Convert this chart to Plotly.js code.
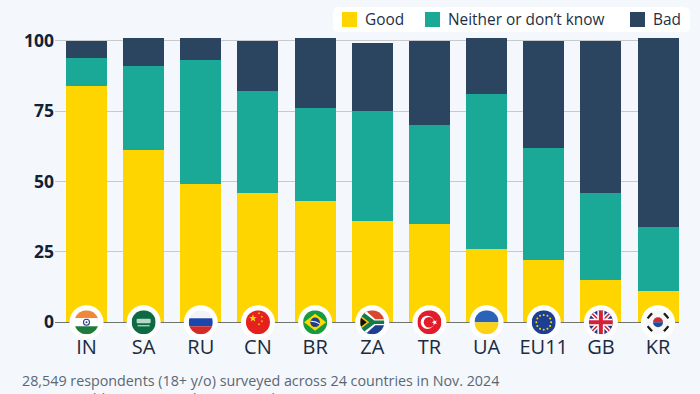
<!DOCTYPE html>
<html>
<head>
<meta charset="utf-8">
<script src="https://cdn.plot.ly/plotly-3.0.1.min.js"></script>
<style>html,body{margin:0;padding:0;background:#f4f7fb;overflow:hidden}#c{width:700px;height:394px}</style>
</head>
<body>
<div id="c"></div>
<script>
const categories = ['IN','SA','RU','CN','BR','ZA','TR','UA','EU11','GB','KR'];
const good = [84,61,49,46,43,36,35,26,22,15,11];
const neither = [10,30,44,36,33,39,35,55,40,31,23];
const bad = [6,10,8,18,25,24,30,20,38,54,67];
const yTicks = [0,25,50,75,100];
const legendLabels = ['Good','Neither or don’t know','Bad'];
const colors = ['#ffd500','#1aa897','#2b445f'];
const footnotes = ['28,549 respondents (18+ y/o) surveyed across 24 countries in Nov. 2024','May not add up to 100% due to rounding'];

const W = 700, H = 394;
const M = {l:55, r:21, t:35, b:52};
const px = x => (x - M.l) / (W - M.l - M.r);
const py = y => 1 - (y - M.t) / (H - M.t - M.b);

function star(cx, cy, r, fill, rot){
  let p = [];
  for (let i = 0; i < 10; i++){
    const a = -Math.PI/2 + (rot||0) + i*Math.PI/5, q = i%2 ? r*0.4 : r;
    p.push((cx+q*Math.cos(a)).toFixed(2)+','+(cy+q*Math.sin(a)).toFixed(2));
  }
  return `<polygon points="${p.join(' ')}" fill="${fill}"/>`;
}
const S = {};
S.IN = `<rect x="-12" y="-12" width="24" height="8" fill="#f0883a"/><rect x="-12" y="-4" width="24" height="8" fill="#fff"/><rect x="-12" y="4" width="24" height="8" fill="#1f7a3c"/><circle r="3" fill="none" stroke="#2a3f8f" stroke-width="1.1"/><circle r="1" fill="#2a3f8f"/>`;
S.SA = `<rect x="-12" y="-12" width="24" height="24" fill="#0c6b42"/><rect x="-7" y="-3.5" width="14" height="4.5" rx="1" fill="#b9d6c6"/><rect x="-6" y="3" width="12" height="1" fill="#e6f0ea"/>`;
S.RU = `<rect x="-12" y="-12" width="24" height="8" fill="#f4f4f6"/><rect x="-12" y="-4" width="24" height="8" fill="#1b46ad"/><rect x="-12" y="4" width="24" height="8" fill="#d12c26"/>`;
S.CN = `<rect x="-12" y="-12" width="24" height="24" fill="#e5211f"/>` + star(-5,-4,4,'#ffd800') + star(1,-9,1.4,'#ffd800',.5) + star(4,-5.5,1.4,'#ffd800',.9) + star(4,-1,1.4,'#ffd800',0) + star(1,2,1.4,'#ffd800',.5);
S.BR = `<rect x="-12" y="-12" width="24" height="24" fill="#169b3e"/><polygon points="-11,0 0,-8.5 11,0 0,8.5" fill="#ffd800"/><circle r="4.8" fill="#1d3f8c"/><path d="M-4.6,-1 Q0,-1.5 4.6,1.6" stroke="#fff" stroke-width="1" fill="none"/>`;
S.ZA = `<rect x="-12" y="-12" width="24" height="12" fill="#d8472f"/><rect x="-12" y="0" width="24" height="12" fill="#1f3f8f"/><polygon points="-12,-12 -7,-12 3,-3 12,-3 12,3 3,3 -7,12 -12,12" fill="#fff"/><polygon points="-12,-10 -9,-10 2,-1.7 12,-1.7 12,1.7 2,1.7 -9,10 -12,10" fill="#127a4b"/><polygon points="-12,-7 -3,0 -12,7" fill="#ffc107"/><polygon points="-12,-5 -5.5,0 -12,5" fill="#111"/>`;
S.TR = `<rect x="-12" y="-12" width="24" height="24" fill="#e21c2a"/><circle cx="-2" r="6.6" fill="#fff"/><circle cx="-0.4" r="5.3" fill="#e21c2a"/>` + star(5.2,0,3,'#fff',-1.57);
S.UA = `<rect x="-12" y="-12" width="24" height="12" fill="#2b63b8"/><rect x="-12" y="0" width="24" height="12" fill="#fcd116"/>`;
S.EU11 = `<rect x="-12" y="-12" width="24" height="24" fill="#1c3f94"/>` + Array.from({length:12},(_,i)=>{const a=i*Math.PI/6;return `<circle cx="${(7.4*Math.cos(a)).toFixed(2)}" cy="${(7.4*Math.sin(a)).toFixed(2)}" r="1" fill="#ffd800"/>`}).join('');
S.GB = `<rect x="-12" y="-12" width="24" height="24" fill="#28367a"/><path d="M-12,-12L12,12M12,-12L-12,12" stroke="#fff" stroke-width="4.5"/><path d="M-12,-12L12,12M12,-12L-12,12" stroke="#d3213a" stroke-width="1.6"/><path d="M0,-12V12M-12,0H12" stroke="#fff" stroke-width="7"/><path d="M0,-12V12M-12,0H12" stroke="#d3213a" stroke-width="4"/>`;
S.KR = `<rect x="-12" y="-12" width="24" height="24" fill="#f7f7f7"/><path d="M-5,0A5,5 0 0 1 5,0Z" fill="#d0293a"/><path d="M-5,0A5,5 0 0 0 5,0Z" fill="#1f4a94"/><g stroke="#1b1b1b" stroke-width="2.4"><path d="M-10.5,-4L-6,-9"/><path d="M6,-9L10.5,-4"/><path d="M-10.5,4L-6,9"/><path d="M6,9L10.5,4"/></g>`;

function flag(code){
  const svg = `<svg xmlns="http://www.w3.org/2000/svg" width="70" height="70" viewBox="-17.5 -17.5 35 35"><defs><clipPath id="f"><circle r="12"/></clipPath></defs><circle r="17" fill="#fff"/><g clip-path="url(#f)">${S[code]}</g></svg>`;
  return 'data:image/svg+xml;charset=utf-8,' + encodeURIComponent(svg);
}

const idx = categories.map((_,i)=>i);
const traces = [good,neither,bad].map((v,i)=>({
  type:'bar', x:idx, y:v, name:legendLabels[i], marker:{color:colors[i],line:{width:0}}, width:0.717, hoverinfo:'skip'
}));

const text = '#0f2237';
const legendX = [[342,364],[425,447],[630,652]];
const shapes = [{type:'path',xref:'paper',yref:'paper',layer:'above',fillcolor:'#ffffff',line:{width:0},
  path:(()=>{const a=px(333),b=px(690),c=py(7),d=py(32),rx=6/(W-M.l-M.r),ry=6/(H-M.t-M.b);
    return `M${a+rx},${c}L${b-rx},${c}Q${b},${c} ${b},${c-ry}L${b},${d+ry}Q${b},${d} ${b-rx},${d}L${a+rx},${d}Q${a},${d} ${a},${d+ry}L${a},${c-ry}Q${a},${c} ${a+rx},${c}Z`})()}];
const annotations = [];
legendLabels.forEach((t,i)=>{
  shapes.push({type:'rect',xref:'paper',yref:'paper',layer:'above',x0:px(legendX[i][0]),x1:px(legendX[i][0]+15),y0:py(12),y1:py(27),fillcolor:colors[i],line:{width:0}});
  annotations.push({xref:'paper',yref:'paper',x:px(legendX[i][1]),y:py(19.5),xanchor:'left',yanchor:'middle',showarrow:false,text:t,xshift:-1,font:{family:'Open Sans',size:15.4,color:'#1d2f45'}});
});
footnotes.forEach((t,i)=>annotations.push({xref:'paper',yref:'paper',x:px(21),y:py(380+i*18),xanchor:'left',yanchor:'middle',showarrow:false,xshift:-1,text:t,font:{family:'Open Sans',size:14.3,color:'#5a6775'}}));

const layout = {
  width:W,height:H,margin:M,barmode:'stack',showlegend:false,
  paper_bgcolor:'#f4f7fb',plot_bgcolor:'#f4f7fb',
  xaxis:{range:[-0.551,10.367],tickmode:'array',tickvals:idx,ticktext:categories,showgrid:false,zeroline:false,showline:false,ticks:'',
    ticklabelstandoff:-9,tickfont:{family:'Open Sans',size:20,color:'#1a2b40'}},
  yaxis:{range:[-7,102],tickmode:'array',tickvals:yTicks,ticktext:yTicks.map(String),showgrid:true,gridcolor:'#c6cacd',gridwidth:1,zeroline:true,zerolinecolor:'#70746f',zerolinewidth:1.5,showline:false,ticks:'',
    ticklabelstandoff:0,tickfont:{family:'Open Sans',size:17.5,color:text,weight:700},automargin:false},
  shapes:shapes,annotations:annotations,
  images:categories.map((c,i)=>({source:flag(c),xref:'x',yref:'y',x:i,y:0,sizex:35/57.15,sizey:35/2.815,xanchor:'center',yanchor:'middle',sizing:'stretch',layer:'above'}))
};
Plotly.newPlot('c',traces,layout,{displayModeBar:false,staticPlot:true});
</script>
</body>
</html>
